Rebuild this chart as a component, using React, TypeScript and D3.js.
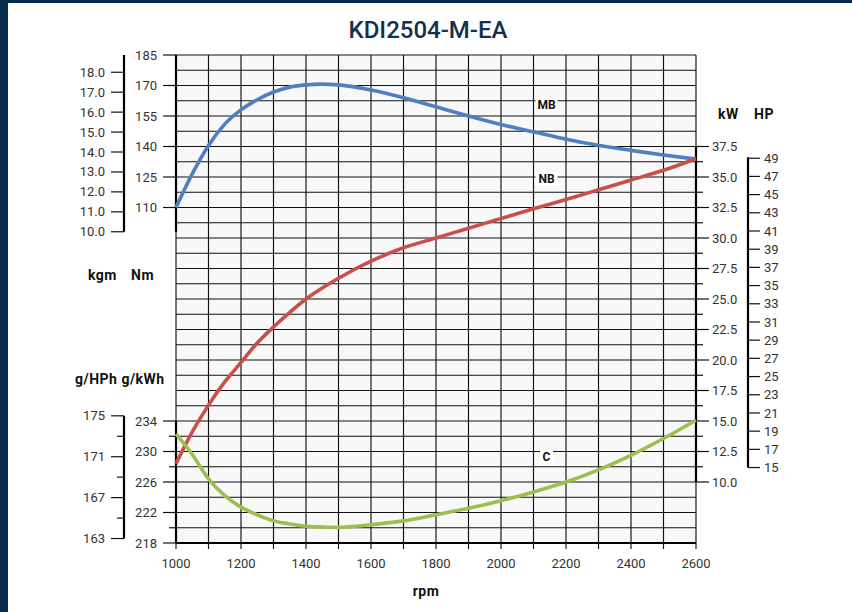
import * as d3 from 'd3';

// engine speed samples (rpm)
const rpm = [1000, 1050, 1100, 1150, 1200, 1250, 1300, 1350, 1400, 1450, 1500, 1600, 1700, 1800, 1900, 2000, 2100, 2200, 2300, 2400, 2500, 2600];
// MB - torque (Nm)
const torqueNm = [110, 126.5, 140.5, 151, 158, 163, 166.8, 169.2, 170.3, 170.7, 170.3, 167.8, 164, 159.5, 155, 150.8, 147.2, 143.6, 140.6, 138.1, 135.8, 133.8];
// NB - power (kW)
const powerKw = [11.5, 14.1, 16.3, 18.2, 19.8, 21.4, 22.7, 23.9, 25.0, 25.9, 26.7, 28.1, 29.2, 30.0, 30.8, 31.6, 32.4, 33.15, 33.95, 34.75, 35.55, 36.5];
// C - specific fuel consumption (g/kWh)
const consumption = [232.3, 229.6, 226.4, 224.2, 222.7, 221.7, 220.9, 220.5, 220.2, 220.1, 220.05, 220.4, 220.9, 221.7, 222.55, 223.55, 224.7, 226.0, 227.6, 229.5, 231.7, 234.1];

const rpmGrid = d3.range(1000, 2601, 100);
const rpmLabels = d3.range(1000, 2601, 200);
const nmTicks = [185, 170, 155, 140, 125, 110];
const kgmTicks = [18, 17, 16, 15, 14, 13, 12, 11, 10];
const kwTicks = [37.5, 35, 32.5, 30, 27.5, 25, 22.5, 20, 17.5, 15, 12.5, 10];
const kwMinor = [36.25, 33.75, 31.25, 28.75, 26.25, 23.75, 21.25, 18.75, 16.25, 13.75, 11.25];
const hpTicks = d3.range(15, 50, 2);
const gkwhTicks = [234, 230, 226, 222, 218];
const gkwhMinor = [232, 228, 224, 220];
const ghphTicks = [175, 171, 167, 163];
const ghphMinor = [173, 169, 165];

const W = 852;
const H = 612;
const left = 176;
const right = 696;
const top = 55;
const bottom = 543;
const rows = d3.range(0, 33);

const NM_PER_KGM = 9.80665;
const KW_PER_HP = 0.7457;

const font = 'Roboto, "Liberation Sans", sans-serif';
const textCol = '#333';

export default function App() {
  const x = d3.scaleLinear().domain([1000, 2600]).range([left, right]);
  const yRow = d3.scaleLinear().domain([0, 32]).range([top, bottom]);
  const yNm = d3.scaleLinear().domain([185, 110]).range([yRow(0), yRow(10)]);
  const yKw = d3.scaleLinear().domain([37.5, 10]).range([yRow(6), yRow(28)]);
  const yC = d3.scaleLinear().domain([234, 218]).range([yRow(24), yRow(32)]);
  const yKgm = (v: number) => yNm(v * NM_PER_KGM);
  const yHp = (v: number) => yKw(v * KW_PER_HP);
  const yGhph = (v: number) => yC(v / KW_PER_HP);

  const line = (ys: number[], sc: (v: number) => number) =>
    d3
      .line<number>()
      .x((_, i) => x(rpm[i]))
      .y((v) => sc(v))
      .curve(d3.curveMonotoneX)(ys) ?? '';

  const curves = [
    { d: line(torqueNm, yNm), color: '#4f7ec1' },
    { d: line(powerKw, yKw), color: '#c94f48' },
    { d: line(consumption, yC), color: '#9cbf50' },
  ];

  const tags = [
    { text: 'MB', x: x(2140), y: yNm(160.6) },
    { text: 'NB', x: x(2140), y: yKw(34.85) },
    { text: 'C', x: x(2140), y: yC(229.3) },
  ];

  return (
    <svg
      width={W}
      height={H}
      style={{ position: 'absolute', left: 0, top: 0, fontFamily: font }}
    >
      <rect x={0} y={0} width={W} height={H} fill="#fff" />
      {/* frame */}
      <rect x={0} y={0} width={W} height={3} fill="#062a4b" />
      <rect x={0} y={0} width={8} height={H} fill="#062a4b" />

      <text x={428} y={38} textAnchor="middle" fontSize={24} fontWeight={500} fill="#14304f">
        KDI2504-M-EA
      </text>

      {/* plot area */}
      <rect x={left} y={top} width={right - left} height={bottom - top} fill="#f8f8f8" />
      <g stroke="#111" strokeWidth={1.15}>
        {rows.map((r) => (
          <line key={'h' + r} x1={left} x2={right} y1={yRow(r)} y2={yRow(r)} />
        ))}
        {rpmGrid.map((v) => (
          <line key={'v' + v} x1={x(v)} x2={x(v)} y1={top} y2={bottom + 6} />
        ))}
      </g>

      {/* thick edges */}
      <g stroke="#000" strokeWidth={2.2}>
        <line x1={left} x2={left} y1={yNm(185)} y2={yKgm(10)} />
        <line x1={left} x2={left} y1={yC(234)} y2={bottom} />
        <line x1={right} x2={right} y1={yKw(37.5)} y2={yKw(10)} />
        <line x1={left} x2={right} y1={bottom} y2={bottom} />
      </g>

      {/* Nm axis */}
      <g>
        {nmTicks.map((t) => (
          <g key={t}>
            <line x1={163} x2={left} y1={yNm(t)} y2={yNm(t)} stroke="#111" strokeWidth={1.2} />
            <text x={157} y={yNm(t)} dy="0.35em" textAnchor="end" fontSize={13} fill={textCol}>
              {t}
            </text>
          </g>
        ))}
      </g>

      {/* kgm axis */}
      <g>
        <line x1={124} x2={124} y1={yNm(185)} y2={yKgm(10)} stroke="#000" strokeWidth={2.2} />
        {kgmTicks.map((t) => (
          <g key={t}>
            <line x1={111} x2={124} y1={yKgm(t)} y2={yKgm(t)} stroke="#111" strokeWidth={1.2} />
            <text x={105} y={yKgm(t)} dy="0.35em" textAnchor="end" fontSize={13} fill={textCol}>
              {t.toFixed(1)}
            </text>
          </g>
        ))}
      </g>

      {/* g/kWh axis */}
      <g>
        {gkwhTicks.map((t) => (
          <g key={t}>
            <line x1={163} x2={left} y1={yC(t)} y2={yC(t)} stroke="#111" strokeWidth={1.2} />
            <text x={157} y={yC(t)} dy="0.35em" textAnchor="end" fontSize={13} fill={textCol}>
              {t}
            </text>
          </g>
        ))}
        {gkwhMinor.map((t) => (
          <line key={t} x1={169} x2={left} y1={yC(t)} y2={yC(t)} stroke="#111" strokeWidth={1.2} />
        ))}
      </g>

      {/* g/HPh axis */}
      <g>
        <line x1={124} x2={124} y1={yGhph(175)} y2={yGhph(163)} stroke="#000" strokeWidth={2.2} />
        {ghphTicks.map((t) => (
          <g key={t}>
            <line x1={111} x2={124} y1={yGhph(t)} y2={yGhph(t)} stroke="#111" strokeWidth={1.2} />
            <text x={105} y={yGhph(t)} dy="0.35em" textAnchor="end" fontSize={13} fill={textCol}>
              {t}
            </text>
          </g>
        ))}
        {ghphMinor.map((t) => (
          <line key={t} x1={117} x2={124} y1={yGhph(t)} y2={yGhph(t)} stroke="#111" strokeWidth={1.2} />
        ))}
      </g>

      {/* kW axis */}
      <g>
        {kwTicks.map((t) => (
          <g key={t}>
            <line x1={right} x2={709} y1={yKw(t)} y2={yKw(t)} stroke="#111" strokeWidth={1.2} />
            <text x={712} y={yKw(t)} dy="0.35em" fontSize={13} fill={textCol}>
              {t.toFixed(1)}
            </text>
          </g>
        ))}
        {kwMinor.map((t) => (
          <line key={t} x1={right} x2={703} y1={yKw(t)} y2={yKw(t)} stroke="#111" strokeWidth={1.2} />
        ))}
      </g>

      {/* HP axis */}
      <g>
        <line x1={748} x2={748} y1={yHp(15)} y2={yHp(49) - 1} stroke="#000" strokeWidth={2.2} />
        {hpTicks.map((t) => (
          <g key={t}>
            <line x1={748} x2={760} y1={yHp(t)} y2={yHp(t)} stroke="#111" strokeWidth={1.2} />
            <text x={764} y={yHp(t)} dy="0.35em" fontSize={13} fill={textCol}>
              {t}
            </text>
          </g>
        ))}
      </g>

      {/* rpm axis */}
      {rpmLabels.map((t) => (
        <text key={t} x={x(t)} y={568} textAnchor="middle" fontSize={13} fill={textCol}>
          {t}
        </text>
      ))}

      {/* axis titles */}
      <g fontSize={14} fontWeight={700} fill="#111" letterSpacing={0.5}>
        <text x={88} y={280}>kgm</text>
        <text x={131} y={280}>Nm</text>
        <text x={75} y={384}>g/HPh g/kWh</text>
        <text x={718} y={119}>kW</text>
        <text x={754} y={119}>HP</text>
        <text x={426} y={596} textAnchor="middle">rpm</text>
      </g>

      {/* curves */}
      {curves.map((c, i) => (
        <path key={i} d={c.d} fill="none" stroke={c.color} strokeWidth={3.6} strokeLinejoin="round" />
      ))}

      {/* curve tags */}
      {tags.map((t) => (
        <g key={t.text}>
          <rect
            x={t.x - (t.text.length * 9 + 4) / 2}
            y={t.y - 7}
            width={t.text.length * 9 + 4}
            height={14}
            fill="#fff"
          />
          <text x={t.x} y={t.y} dy="0.36em" textAnchor="middle" fontSize={12} fontWeight={700} fill="#111">
            {t.text}
          </text>
        </g>
      ))}
    </svg>
  );
}
